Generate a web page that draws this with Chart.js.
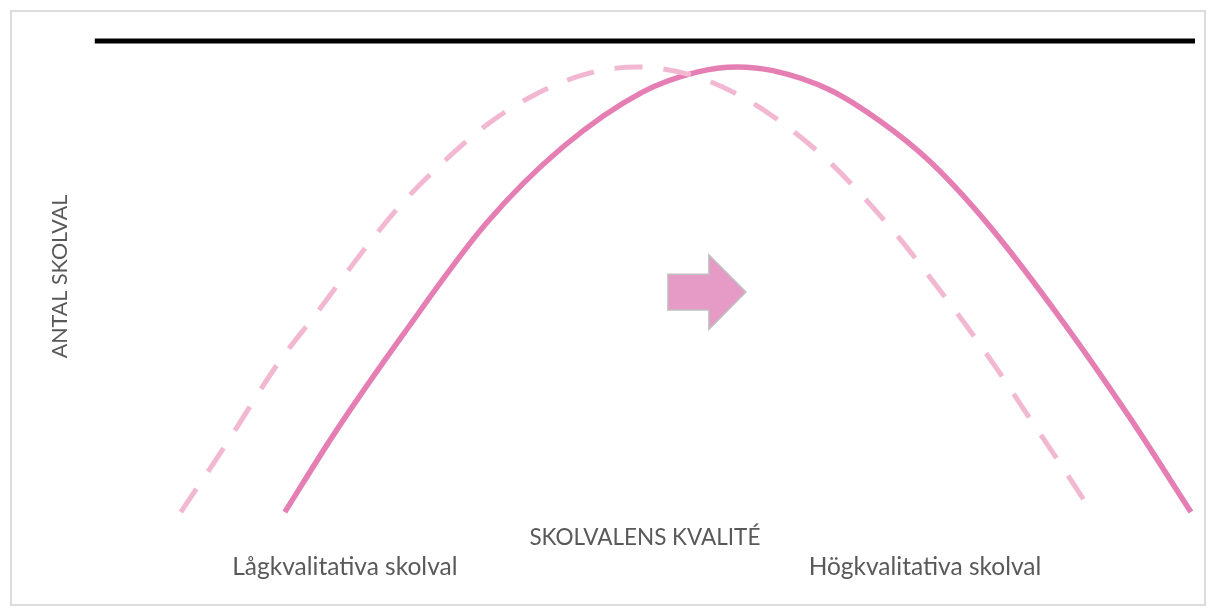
<!DOCTYPE html>
<html>
<head>
<meta charset="utf-8">
<script src="https://cdn.jsdelivr.net/npm/chart.js@4/dist/chart.umd.min.js"></script>
<style>
  html, body { margin: 0; padding: 0; background: #fff; }
  #frame { position: absolute; left: 10px; top: 10px; width: 1196px; height: 596px; border: 2px solid #dcdcdc; box-sizing: border-box; }
  #myChart { position: absolute; left: 0; top: 0; }
</style>
</head>
<body>
<div id="frame"></div>
<canvas id="myChart" width="1210" height="609"></canvas>
<script>
// curve after the shift (solid)
const solidX = [19, 23.9, 30.8, 39.1, 46.8, 54.8, 60.2, 64.2, 67.8, 73.5, 78.5, 83.5, 89.5, 96.8, 103.5, 109.6];
const solidY = [0, 16.5, 37.6, 61.2, 77.5, 89.2, 93.4, 94.5, 93.7, 89.6, 83, 74.4, 60.6, 40.4, 20, 0];

// curve before the shift (dashed)
const dashedX = [8.6, 13, 18.4, 22.1, 27.5, 31.1, 35.1, 39.5, 43.9, 49, 54.2, 59.9, 64.5, 68.8, 73.2, 76.8, 80.5, 83.8, 87.2, 90.2, 93.2, 96.2, 99.7];
const dashedY = [0, 14, 31.8, 42, 57.3, 66.4, 74.8, 82.7, 88.5, 92.9, 94.5, 92.6, 88.4, 82.5, 74.8, 67, 58, 49, 39.4, 30.4, 20.8, 11.3, 0];

// black line over the top
const topLineX = [0, 110];
const topLineY = [100, 100];

// labels under the x axis
const tickValues = [25, 83];
const tickLabels = ["Lågkvalitativa skolval", "Högkvalitativa skolval"];

const xTitle = "SKOLVALENS KVALITÉ";
const yTitle = "ANTAL SKOLVAL";

// arrow in data units
const arrowLeft = 57.3, arrowNeck = 61.4, arrowTip = 65.1;
const arrowMid = 46.7, arrowShaft = 3.8, arrowHead = 7.9;

const textColor = "#595959";
const fontFamily = "Lato, 'Open Sans', sans-serif";

function toPoints(xs, ys) {
  return xs.map((x, i) => ({ x: x, y: ys[i] }));
}

const arrowPlugin = {
  id: "arrow",
  afterDatasetsDraw(chart) {
    const ctx = chart.ctx;
    const sx = chart.scales.x, sy = chart.scales.y;
    const px = v => sx.getPixelForValue(v);
    const py = v => sy.getPixelForValue(v);
    ctx.save();
    ctx.beginPath();
    ctx.moveTo(px(arrowLeft), py(arrowMid + arrowShaft));
    ctx.lineTo(px(arrowNeck), py(arrowMid + arrowShaft));
    ctx.lineTo(px(arrowNeck), py(arrowMid + arrowHead));
    ctx.lineTo(px(arrowTip), py(arrowMid));
    ctx.lineTo(px(arrowNeck), py(arrowMid - arrowHead));
    ctx.lineTo(px(arrowNeck), py(arrowMid - arrowShaft));
    ctx.lineTo(px(arrowLeft), py(arrowMid - arrowShaft));
    ctx.closePath();
    ctx.fillStyle = "#e69ac6";
    ctx.fill();
    ctx.lineWidth = 1.5;
    ctx.strokeStyle = "#c0c0c0";
    ctx.stroke();
    ctx.restore();
  }
};

let ctx = document.getElementById("myChart").getContext("2d");

let chart = new Chart(ctx, {
  type: "line",
  data: {
    datasets: [
      {
        label: "top",
        data: toPoints(topLineX, topLineY),
        borderColor: "#000",
        borderWidth: 5,
        pointRadius: 0,
        clip: false
      },
      {
        label: "före",
        data: toPoints(dashedX, dashedY),
        borderColor: "#f2b8d1",
        borderWidth: 5,
        borderDash: [28, 21],
        pointRadius: 0,
        cubicInterpolationMode: "monotone",
        clip: false
      },
      {
        label: "efter",
        data: toPoints(solidX, solidY),
        borderColor: "#e57fb3",
        borderWidth: 5.5,
        pointRadius: 0,
        cubicInterpolationMode: "monotone",
        clip: false
      }
    ]
  },
  options: {
    responsive: false,
    animation: false,
    layout: { padding: { left: 20, right: 15, top: 41, bottom: 26 } },
    plugins: {
      legend: { display: false },
      tooltip: { enabled: false }
    },
    scales: {
      x: {
        type: "linear",
        position: "bottom",
        min: 0,
        max: 110,
        grid: { display: false, drawTicks: false },
        border: { display: false },
        ticks: { display: false },
        title: {
          display: true,
          text: xTitle,
          color: textColor,
          font: { family: fontFamily, size: 22.5 },
          padding: { top: 12.5, bottom: 0 }
        }
      },
      x2: {
        type: "linear",
        position: "bottom",
        min: 0,
        max: 110,
        grid: { display: false, drawTicks: false },
        border: { display: false },
        afterBuildTicks: axis => { axis.ticks = tickValues.map(v => ({ value: v })); },
        ticks: {
          autoSkip: false,
          maxRotation: 0,
          padding: 1,
          color: textColor,
          font: { family: fontFamily, size: 24.5 },
          callback: (value, index) => tickLabels[index]
        }
      },
      y: {
        min: 0,
        max: 100,
        grid: { display: false, drawTicks: false },
        border: { display: false },
        ticks: { display: false },
        title: {
          display: true,
          text: yTitle,
          color: textColor,
          font: { family: fontFamily, size: 21.5 },
          padding: { top: 27, bottom: 22 }
        }
      }
    }
  },
  plugins: [arrowPlugin]
});
</script>
</body>
</html>
